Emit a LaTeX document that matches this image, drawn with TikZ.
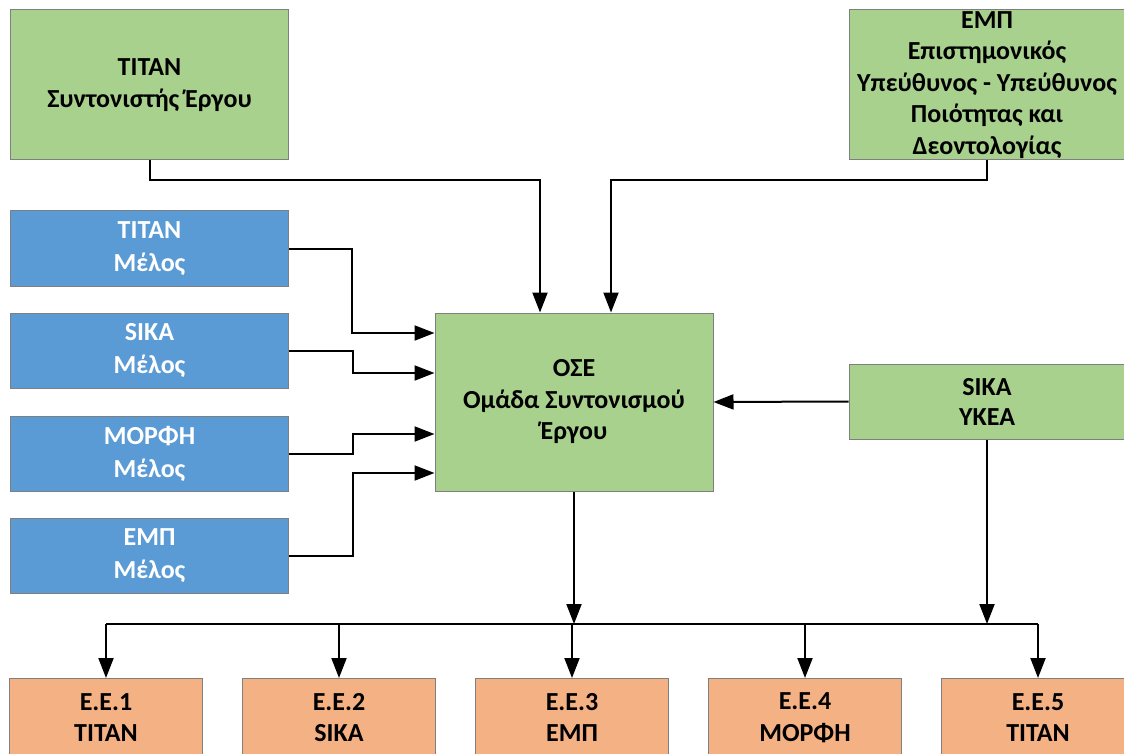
\documentclass[tikz,border=0pt]{standalone}
\usepackage{fontspec}
\setmainfont{Carlito}
\usetikzlibrary{arrows.meta}
\definecolor{boxgreen}{HTML}{A9D18E}
\definecolor{boxblue}{HTML}{5B9BD5}
\definecolor{boxorange}{HTML}{F4B183}
\definecolor{boxline}{HTML}{7F7F7F}

\begin{document}
\begin{tikzpicture}[x=1pt,y=-1pt]
	\tikzset{box/.style={draw=boxline, line width=1pt, align=center, inner sep=0pt, font=\bfseries\fontsize{26}{31.5}\selectfont}}
	\tikzset{lead/.style={box, fill=boxgreen, minimum width=278pt}}
	\tikzset{member/.style={box, fill=boxblue, text=white, minimum width=278pt, minimum height=75pt, font=\bfseries\fontsize{26}{33}\selectfont}}
	\tikzset{wp/.style={box, fill=boxorange, minimum width=193pt, minimum height=78pt}}
	\tikzset{wire/.style={draw, line width=2pt}}
	\tikzset{arrow/.style={wire, -{Triangle[length=20pt,width=15pt]}}}

	\useasboundingbox (0,0) rectangle (1124,754);
	\clip (0,0) rectangle (1124,754);

	\node[lead, minimum height=150pt] (coord) at (149.5,85) {TITAN\\Συντονιστής Έργου};
	\node[lead, minimum width=276pt, minimum height=150pt] (quality) at (987,85) {ΕΜΠ\\Επιστημονικός\\Υπεύθυνος - Υπεύθυνος\\Ποιότητας και\\Δεοντολογίας};

	\node[member] (m1) at (149.5,248.5) {TITAN\\Μέλος};
	\node[member] (m2) at (149.5,350.5) {SIKA\\Μέλος};
	\node[member] (m3) at (149.5,453.5) {ΜΟΡΦΗ\\Μέλος};
	\node[member] (m4) at (149.5,555.5) {ΕΜΠ\\Μέλος};

	\node[lead, minimum height=178pt] (ose) at (574,402) {ΟΣΕ\\Ομάδα Συντονισμού\\Έργου};
	\node[lead, minimum width=276pt, minimum height=75pt, font=\bfseries\fontsize{26}{30}\selectfont] (ykea) at (987,401.5) {SIKA\\ΥΚΕΑ};

	\node[wp] (wp1) at (106,717.5) {Ε.Ε.1\\TITAN};
	\node[wp] (wp2) at (339,717.5) {Ε.Ε.2\\SIKA};
	\node[wp] (wp3) at (572,717.5) {Ε.Ε.3\\ΕΜΠ};
	\node[wp] (wp4) at (805,717.5) {Ε.Ε.4\\ΜΟΡΦΗ};
	\node[wp] (wp5) at (1038,717.5) {Ε.Ε.5\\TITAN};

	% into the coordination team
	\draw[arrow] (coord.south) -- ++(0,20) -| ([xshift=-34pt]ose.north);
	\draw[arrow] (quality.south) -- ++(0,20) -| ([xshift=37pt]ose.north);
	\draw[arrow] (m1.east) -- ++(63,0) |- ([yshift=69pt]ose.west);
	\draw[arrow] (m2.east) -- ++(64,0) |- ([yshift=29pt]ose.west);
	\draw[arrow] (m3.east) -- ++(64,0) |- ([yshift=-32pt]ose.west);
	\draw[arrow] (m4.east) -- ++(64,0) |- ([yshift=-71pt]ose.west);
	\draw[arrow] (ykea.west) -- (ose.east);

	% down to the work packages
	\coordinate (bus) at (0,624);
	\draw[arrow] (ose.south) -- (ose.south |- bus);
	\draw[arrow] (ykea.south) -- (ykea.south |- bus);
	\draw[wire] (wp1.north |- bus) -- (wp5.north |- bus);
	\foreach \i in {1,...,5}
		\draw[arrow] (wp\i.north |- bus) -- (wp\i.north);
\end{tikzpicture}
\end{document}
